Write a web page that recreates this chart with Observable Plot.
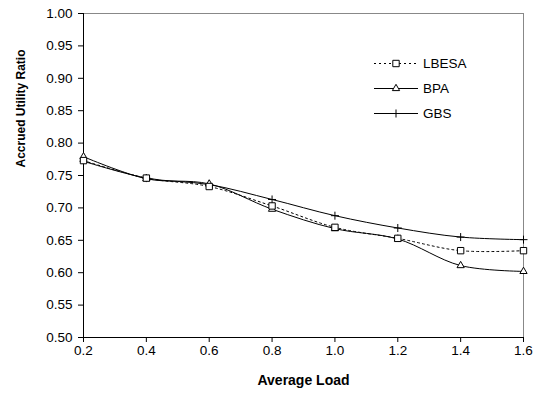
<!DOCTYPE html>
<html>
<head>
<meta charset="utf-8">
<script src="https://cdn.jsdelivr.net/npm/d3@7"></script>
<script src="https://cdn.jsdelivr.net/npm/@observablehq/plot@0.6"></script>
<style>
  body { margin: 0; background: #fff; }
  #wrap { position: relative; width: 541px; height: 396px; font-family: "Liberation Sans", Arial, sans-serif; }
  #legend { position: absolute; left: 0; top: 0; width: 541px; height: 396px; pointer-events: none; }
  #legend .item { position: absolute; left: 372px; height: 20px; display: flex; align-items: center; }
  #legend .item span { font-size: 13.5px; color: #000; margin-left: 3px; }
</style>
</head>
<body>
<div id="wrap"></div>
<script>
const loads = [0.2, 0.4, 0.6, 0.8, 1.0, 1.2, 1.4, 1.6];
const lbesa = [0.773, 0.746, 0.733, 0.703, 0.670, 0.653, 0.634, 0.634];
const bpa   = [0.779, 0.745, 0.737, 0.698, 0.668, 0.652, 0.611, 0.602];
const gbs   = [0.772, 0.746, 0.736, 0.713, 0.688, 0.669, 0.655, 0.651];
const seriesNames = ["LBESA", "BPA", "GBS"];
const yTicks = [0.50, 0.55, 0.60, 0.65, 0.70, 0.75, 0.80, 0.85, 0.90, 0.95, 1.00];
const xLabel = "Average Load";
const yLabel = "Accrued Utility Ratio";

const toRows = (vals, name) => loads.map((x, i) => ({x, y: vals[i], name}));
const rowsL = toRows(lbesa, "LBESA");
const rowsB = toRows(bpa, "BPA");
const rowsG = toRows(gbs, "GBS");

const chart = Plot.plot({
  width: 541,
  height: 396,
  marginLeft: 83,
  marginRight: 18,
  marginTop: 13,
  marginBottom: 59,
  style: { fontFamily: "'Liberation Sans', Arial, sans-serif", fontSize: "13px", background: "#fff", color: "#000" },
  x: { domain: [0.2, 1.6] },
  y: { domain: [0.5, 1.0] },
  marks: [
    Plot.frame({ stroke: "#888" }),
    Plot.ruleX([0.2], { stroke: "#000" }),
    Plot.ruleY([0.5], { stroke: "#000" }),
    Plot.axisX({ ticks: loads, tickFormat: d => d.toFixed(1), tickSize: 5, tickPadding: 3, fontSize: 13.5, label: null }),
    Plot.axisY({ ticks: yTicks, tickFormat: d => d.toFixed(2), tickSize: 5, tickPadding: 6, fontSize: 13.5, label: null }),
    Plot.text([xLabel], { frameAnchor: "bottom", dy: 43, lineAnchor: "middle", fontWeight: "bold", fontSize: 14 }),
    Plot.text([yLabel], { frameAnchor: "left", dx: -62, dy: -8, rotate: -90, lineAnchor: "middle", fontWeight: "bold", fontSize: 12 }),
    Plot.line(rowsG, { x: "x", y: "y", curve: "catmull-rom", stroke: "#000", strokeWidth: 1 }),
    Plot.line(rowsB, { x: "x", y: "y", curve: "catmull-rom", stroke: "#000", strokeWidth: 1 }),
    Plot.line(rowsL, { x: "x", y: "y", curve: "catmull-rom", stroke: "#000", strokeWidth: 1, strokeDasharray: "2,3" }),
    Plot.dot(rowsG, { x: "x", y: "y", symbol: "plus", r: 2.7, stroke: "#000", strokeWidth: 1 }),
    Plot.dot(rowsB, { x: "x", y: "y", symbol: "triangle", r: 2.7, fill: "#fff", stroke: "#000", strokeWidth: 1 }),
    Plot.dot(rowsL, { x: "x", y: "y", symbol: "square", r: 3.6, fill: "#fff", stroke: "#000", strokeWidth: 1 })
  ]
});

const wrap = document.getElementById("wrap");
wrap.appendChild(chart);

// Legend (real text) overlaid inside the plot area
const legend = document.createElement("div");
legend.id = "legend";
const legendRows = [
  { name: seriesNames[0], dash: "2,3", sym: "square", r: 3.6, top: 53 },
  { name: seriesNames[1], dash: null, sym: "triangle", r: 2.7, top: 78 },
  { name: seriesNames[2], dash: null, sym: "plus", r: 2.7, top: 103 }
];
for (const r of legendRows) {
  const item = document.createElement("div");
  item.className = "item";
  item.style.top = r.top + "px";
  const ns = "http://www.w3.org/2000/svg";
  const svg = document.createElementNS(ns, "svg");
  svg.setAttribute("width", 48);
  svg.setAttribute("height", 20);
  const ln = document.createElementNS(ns, "line");
  ln.setAttribute("x1", 2); ln.setAttribute("x2", 46);
  ln.setAttribute("y1", 10.5); ln.setAttribute("y2", 10.5);
  ln.setAttribute("stroke", "#000");
  if (r.dash) ln.setAttribute("stroke-dasharray", r.dash);
  svg.appendChild(ln);
  const symType = r.sym === "square" ? d3.symbolSquare : r.sym === "triangle" ? d3.symbolTriangle : d3.symbolPlus;
  const p = document.createElementNS(ns, "path");
  p.setAttribute("d", d3.symbol(symType, Math.PI * r.r * r.r)());
  p.setAttribute("transform", "translate(24,10.5)");
  p.setAttribute("fill", r.sym === "plus" ? "none" : "#fff");
  p.setAttribute("stroke", "#000");
  svg.appendChild(p);
  item.appendChild(svg);
  const t = document.createElement("span");
  t.textContent = r.name;
  item.appendChild(t);
  legend.appendChild(item);
}
wrap.appendChild(legend);
</script>
</body>
</html>
